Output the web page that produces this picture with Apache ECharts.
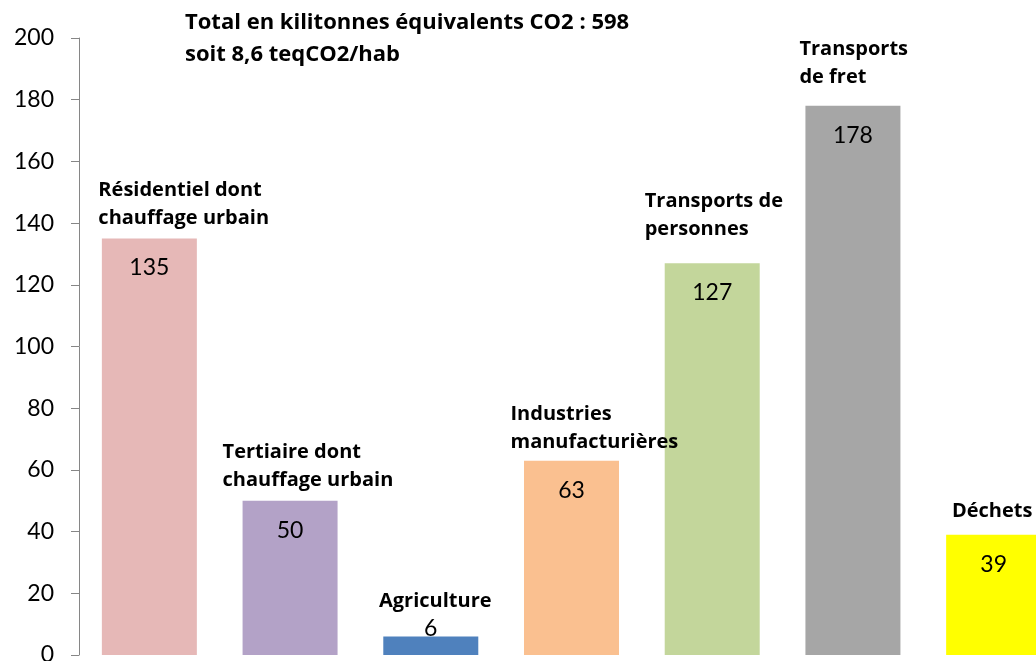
<!DOCTYPE html>
<html>
<head>
<meta charset="utf-8">
<script src="https://cdn.jsdelivr.net/npm/echarts@6/dist/echarts.min.js"></script>
<style>html,body{margin:0;padding:0;background:#fff}#c{width:1036px;height:661px}</style>
</head>
<body>
<div id="c"></div>
<script>
const categories = [
  "Résidentiel dont\nchauffage urbain",
  "Tertiaire dont\nchauffage urbain",
  "Agriculture",
  "Industries\nmanufacturières",
  "Transports de\npersonnes",
  "Transports\nde fret",
  "Déchets"
];
const values = [135, 50, 6, 63, 127, 178, 39];
const barColors = ["#E6B8B7", "#B3A2C7", "#4F81BD", "#FAC090", "#C3D69B", "#A6A6A6", "#FFFF00"];
const titleLines = ["Total en kilitonnes équivalents CO2 : 598", "soit 8,6 teqCO2/hab"];

const FONT = "Lato, 'Open Sans', sans-serif";
const BFONT = "'Open Sans', Lato, sans-serif";
// label placement style (not data)
const nameLayout = [
  {align: 'left', dx: -51, dist: 6},
  {align: 'left', dx: -67.5, dist: 6.5},
  {align: 'center', dx: 4.5, dist: 21.5},
  {align: 'left', dx: -61, dist: 4.5},
  {align: 'left', dx: -67.5, dist: 19.5},
  {align: 'left', dx: -53.5, dist: 14.5},
  {align: 'center', dx: -1.5, dist: 9.5}
];

const chart = echarts.init(document.getElementById('c'));
chart.setOption({
  animation: false,
  title: {
    text: titleLines.join('\n'),
    left: 180, top: 2,
    textStyle: {fontFamily: BFONT, fontSize: 22, fontWeight: 'bold', color: '#000', lineHeight: 32}
  },
  grid: {left: 79, top: 38, width: 985, height: 617, containLabel: false, outerBoundsMode: 'none'},
  xAxis: {
    type: 'category', data: categories,
    axisLine: {show: false}, axisTick: {show: false}, axisLabel: {show: false}
  },
  yAxis: {
    type: 'value', min: 0, max: 200, interval: 20,
    axisLine: {show: true, lineStyle: {color: '#868686', width: 1}},
    axisTick: {show: true, inside: false, length: 8, lineStyle: {color: '#868686'}},
    splitLine: {show: false},
    axisLabel: {fontFamily: FONT, fontSize: 23, color: '#000', margin: 25}
  },
  series: [
    {
      type: 'bar', barWidth: 95,
      data: values.map((v, i) => ({
        value: v,
        itemStyle: {color: barColors[i]},
        label: v < 10 ? {position: 'top', distance: -4} : {}
      })),
      label: {show: true, position: 'insideTop', distance: 18, fontFamily: FONT, fontSize: 23, color: '#000'}
    },
    {
      type: 'bar', barWidth: 95, barGap: '-100%', silent: true, z: 5,
      data: values.map((v, i) => ({
        value: v,
        itemStyle: {color: 'rgba(0,0,0,0)'},
        label: {align: nameLayout[i].align, offset: [nameLayout[i].dx, 0], distance: nameLayout[i].dist}
      })),
      label: {
        show: true, position: 'top',
        formatter: p => categories[p.dataIndex],
        fontFamily: BFONT, fontSize: 20, fontWeight: 'bold', color: '#000', lineHeight: 28
      }
    }
  ]
});
</script>
</body>
</html>
